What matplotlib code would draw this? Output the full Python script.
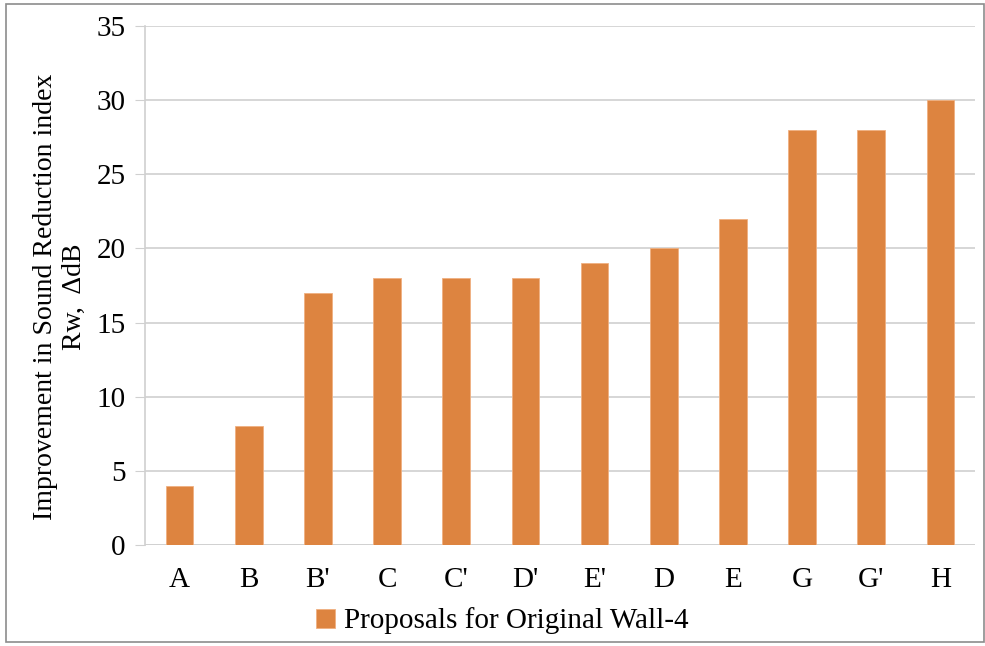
import matplotlib.pyplot as plt
from matplotlib.patches import Rectangle

categories = ['A', 'B', "B'", 'C', "C'", "D'", "E'", 'D', 'E', 'G', "G'", 'H']
values = [4, 8, 17, 18, 18, 18, 19, 20, 22, 28, 28, 30]
yticks = [0, 5, 10, 15, 20, 25, 30, 35]

plt.rcParams['font.family'] = ['Liberation Serif', 'DejaVu Serif']

fig = plt.figure(figsize=(9.85, 6.46), dpi=100)
ax = fig.add_axes([145 / 985, 1 - 545 / 646, 830 / 985, 519 / 646])

# outer chart frame
fig.patches.append(Rectangle((6 / 985, 4 / 646), 978 / 985, 638 / 646,
                             transform=fig.transFigure, fill=False,
                             edgecolor='#8c8c8c', linewidth=1.2))

x = range(len(categories))
ax.bar(x, values, width=0.4, color='#DD8440', edgecolor='#F0B080',
       linewidth=0.6, label='Proposals for Original Wall-4', zorder=3)

ax.set_xlim(-0.5, len(categories) - 0.5)
ax.set_ylim(0, 35)
ax.set_yticks(yticks)
ax.set_xticks(list(x))
ax.set_xticklabels(categories)
ax.tick_params(axis='y', length=7, color='#d0d0d0', labelsize=21, pad=7)
ax.tick_params(axis='x', length=0, labelsize=21, pad=16)
ax.grid(axis='y', color='#d0d0d0', linewidth=1.2, zorder=0)

for s in ['top', 'right', 'bottom']:
    ax.spines[s].set_visible(False)
ax.spines['left'].set_color('#d0d0d0')
ax.spines['left'].set_linewidth(1.2)
ax.axhline(0, color='#d0d0d0', linewidth=1.2, zorder=1)

ax.set_ylabel('Improvement in Sound Reduction index\nRw,  \u0394dB', fontsize=20,
              linespacing=1.2, labelpad=7)
ax.yaxis.label.set_y(0.479)

fig.legend(loc='center', bbox_to_anchor=(502 / 985, 1 - 621 / 646), frameon=False,
           fontsize=21, handlelength=0.65, handleheight=0.65, handletextpad=0.3)

plt.savefig('out.png', dpi=100)
